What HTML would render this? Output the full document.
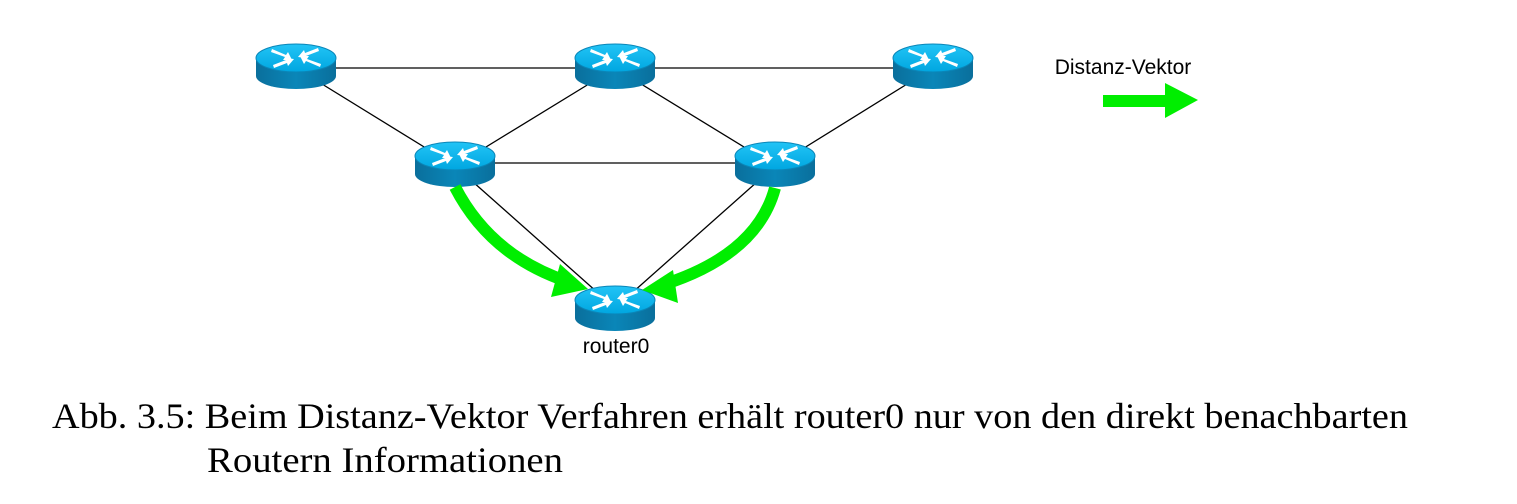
<!DOCTYPE html>
<html><head><meta charset="utf-8"><style>
html,body{margin:0;padding:0;background:#fff;}
svg{display:block;}
</style></head><body>
<svg width="1517" height="504" viewBox="0 0 1517 504" xmlns="http://www.w3.org/2000/svg">
<defs>
<linearGradient id="tg" x1="0" y1="0" x2="0" y2="1">
<stop offset="0" stop-color="#22c4f6"/><stop offset="1" stop-color="#00a6e0"/>
</linearGradient>
<linearGradient id="bg" x1="0" y1="0" x2="1" y2="0">
<stop offset="0" stop-color="#0a6f9c"/><stop offset="0.5" stop-color="#0a86b8"/><stop offset="1" stop-color="#0a6f9c"/>
</linearGradient>
<g id="r">
<path d="M-40 0 L-40 18 A40 13 0 0 0 40 18 L40 0 Z" fill="url(#bg)"/>
<ellipse cx="0" cy="0" rx="40" ry="14" fill="url(#tg)" stroke="#0a86b8" stroke-width="1"/>
<g fill="#fff">
<path d="M-24 -9 L-10 -3 L-8 -6 L-4 2 L-13 2 L-11 -1 L-25 -6 Z"/>
<path d="M24 9 L10 3 L8 6 L4 -2 L13 -2 L11 1 L25 6 Z"/>
<path d="M22 -10 L9 -5 L8 -8 L2 -1 L11 0 L10 -2 L23 -7 Z"/>
<path d="M-22 10 L-9 5 L-8 8 L-2 1 L-11 0 L-10 2 L-23 7 Z"/>
</g>
</g>
</defs>
<g stroke="#000" stroke-width="1.3">
<line x1="296" y1="68" x2="615" y2="68"/>
<line x1="615" y1="68" x2="933" y2="68"/>
<line x1="296" y1="68" x2="455" y2="166"/>
<line x1="615" y1="68" x2="455" y2="166"/>
<line x1="615" y1="68" x2="775" y2="166"/>
<line x1="933" y1="68" x2="775" y2="166"/>
<line x1="455" y1="163" x2="775" y2="163"/>
<line x1="455" y1="166" x2="615" y2="308"/>
<line x1="775" y1="166" x2="615" y2="308"/>
</g>
<use href="#r" x="296" y="58"/>
<use href="#r" x="615" y="58"/>
<use href="#r" x="933" y="58"/>
<use href="#r" x="455" y="156"/>
<use href="#r" x="775" y="156"/>
<use href="#r" x="615" y="300"/>
<path d="M455 187 Q490 255 566 281" fill="none" stroke="#00ee00" stroke-width="12"/>
<polygon points="588,289 560,264 551,297" fill="#00ee00"/>
<path d="M775 188 Q757 255 662 285" fill="none" stroke="#00ee00" stroke-width="12"/>
<polygon points="642,290 673,270 678,303" fill="#00ee00"/>
<text x="616" y="353" font-family="Liberation Sans, sans-serif" font-size="21" text-anchor="middle">router0</text>
<text x="1123" y="74" font-family="Liberation Sans, sans-serif" font-size="21" text-anchor="middle">Distanz-Vektor</text>
<polygon points="1103,95 1165,95 1165,83 1198,100 1165,118 1165,107 1103,107" fill="#00ee00"/>
<text x="52" y="428" font-family="Liberation Serif, serif" font-size="36" textLength="1356" lengthAdjust="spacingAndGlyphs">Abb. 3.5: Beim Distanz-Vektor Verfahren erhält router0 nur von den direkt benachbarten</text>
<text x="207" y="472" font-family="Liberation Serif, serif" font-size="36" textLength="356" lengthAdjust="spacingAndGlyphs">Routern Informationen</text>
</svg>
</body></html>
